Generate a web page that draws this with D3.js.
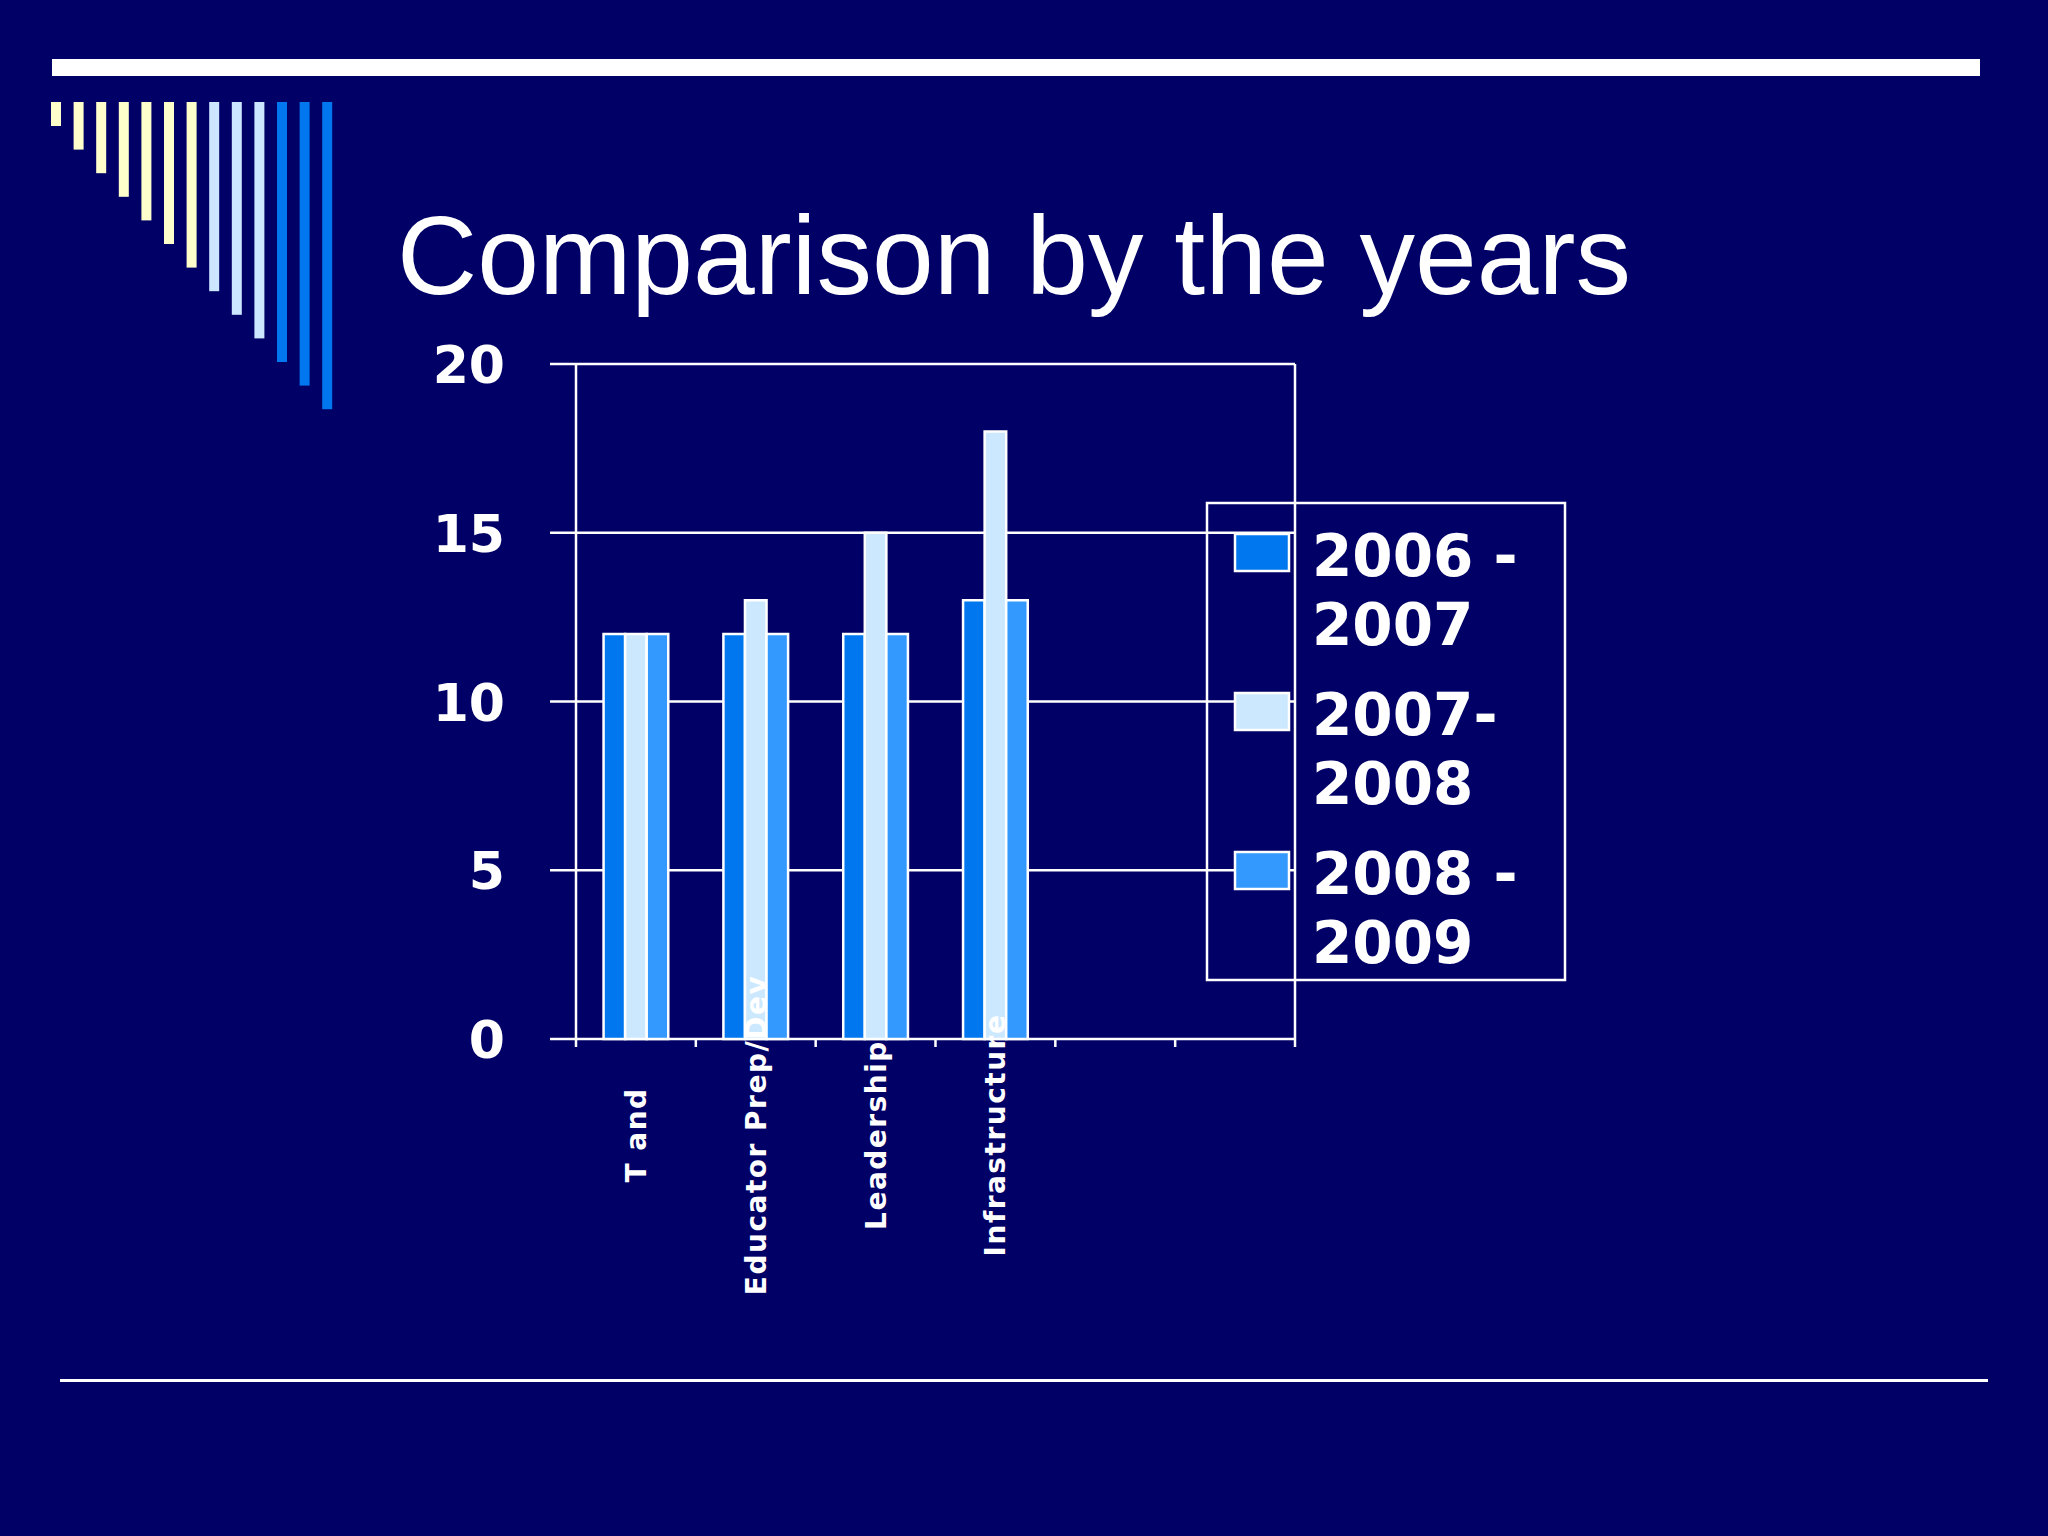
<!DOCTYPE html>
<html>
<head>
<meta charset="utf-8">
<script src="https://cdn.jsdelivr.net/npm/d3@7"></script>
<style>
  body { margin: 0; background: #000066; }
  text { font-family: "Liberation Sans", Arial, sans-serif; fill: #ffffff; }
  .bold { font-family: "DejaVu Sans", Verdana, sans-serif; font-weight: bold; }
</style>
</head>
<body>
<div id="chart"></div>
<script>
var categories = ["T and", "Educator Prep/Dev", "Leadership", "Infrastructure"];
var seriesNames = ["2006 -\n2007", "2007-\n2008", "2008 -\n2009"];
var values2006 = [12, 12, 12, 13];
var values2007 = [12, 13, 15, 18];
var values2008 = [12, 12, 12, 13];
var yTicks = [0, 5, 10, 15, 20];
var slotCount = 6; // axis has 6 category slots, last two empty

var colors = ["#0077ee", "#cce8ff", "#3399ff"];
var seriesValues = [values2006, values2007, values2008];

var svgWidth = 2048, svgHeight = 1536;
var svg = d3.select("#chart").append("svg")
    .attr("width", svgWidth).attr("height", svgHeight);

svg.append("rect").attr("width", svgWidth).attr("height", svgHeight).attr("fill", "#000066");

// slide decoration
svg.append("rect").attr("x", 52).attr("y", 59).attr("width", 1928).attr("height", 17).attr("fill", "#ffffff");
svg.append("rect").attr("x", 60).attr("y", 1379).attr("width", 1928).attr("height", 3).attr("fill", "#ffffff");

var stripeColors = d3.range(13).map(i => i < 7 ? "#ffffcc" : (i < 10 ? "#cce6ff" : "#0077ee"));
svg.selectAll(".stripe").data(stripeColors).enter().append("rect")
    .attr("x", (d, i) => 51 + i * 22.6)
    .attr("y", 102)
    .attr("width", 10)
    .attr("height", (d, i) => 24 + i * 23.6)
    .attr("fill", d => d);

svg.append("text")
    .attr("x", 397).attr("y", 294)
    .attr("font-size", 111)
    .text("Comparison by the years");

// chart
var plotLeft = 576, plotRight = 1295, plotTop = 364, plotBottom = 1039;

var x = d3.scaleBand().domain(d3.range(slotCount)).range([plotLeft, plotRight]);
var xInner = d3.scaleBand().domain(d3.range(seriesNames.length))
    .range([x.bandwidth() * 0.23, x.bandwidth() * 0.77]);
var y = d3.scaleLinear().domain([0, 20]).range([plotBottom, plotTop]);

var g = svg.append("g");

// gridlines
g.selectAll(".grid").data(yTicks).enter().append("line")
    .attr("x1", plotLeft - 26).attr("x2", plotRight)
    .attr("y1", d => y(d)).attr("y2", d => y(d))
    .attr("stroke", "#ffffff").attr("stroke-width", 2.5);

g.append("line").attr("x1", plotLeft).attr("x2", plotLeft).attr("y1", plotTop).attr("y2", plotBottom)
    .attr("stroke", "#ffffff").attr("stroke-width", 2.5);
g.append("line").attr("x1", plotRight).attr("x2", plotRight).attr("y1", plotTop).attr("y2", plotBottom)
    .attr("stroke", "#ffffff").attr("stroke-width", 2.5);

// x ticks
g.selectAll(".xtick").data(d3.range(slotCount + 1)).enter().append("line")
    .attr("x1", d => plotLeft + d * x.step()).attr("x2", d => plotLeft + d * x.step())
    .attr("y1", plotBottom).attr("y2", plotBottom + 8)
    .attr("stroke", "#ffffff").attr("stroke-width", 2.5);

g.selectAll(".ylab").data(yTicks).enter().append("text")
    .attr("class", "bold")
    .attr("x", 505).attr("y", d => y(d) + 19)
    .attr("text-anchor", "end")
    .attr("font-size", 52)
    .text(d => d);

// bars
seriesValues.forEach(function(vals, s) {
    g.selectAll(".bar" + s).data(vals).enter().append("rect")
        .attr("x", (d, i) => x(i) + xInner(s))
        .attr("y", d => y(d))
        .attr("width", xInner.bandwidth())
        .attr("height", d => plotBottom - y(d))
        .attr("fill", colors[s])
        .attr("stroke", "#ffffff").attr("stroke-width", 2.5);
});

// category labels
g.selectAll(".xlab").data(categories).enter().append("text")
    .attr("class", "bold")
    .attr("transform", (d, i) => `translate(${x(i) + x.bandwidth() / 2 + 10}, 1135) rotate(-90)`)
    .attr("text-anchor", "middle")
    .attr("font-size", 28).attr("letter-spacing", 1.5)
    .text(d => d);

// legend
svg.append("rect").attr("x", 1207).attr("y", 503).attr("width", 358).attr("height", 477)
    .attr("fill", "none").attr("stroke", "#ffffff").attr("stroke-width", 2.5);

seriesNames.forEach(function(name, s) {
    var top0 = 534 + s * 159;
    svg.append("rect").attr("x", 1235).attr("y", top0).attr("width", 54).attr("height", 37)
        .attr("fill", colors[s]).attr("stroke", "#ffffff").attr("stroke-width", 2.5);
    name.split("\n").forEach(function(line, k) {
        svg.append("text")
            .attr("class", "bold")
            .attr("x", 1312).attr("y", top0 + 42 + k * 69)
            .attr("font-size", 58)
            .text(line);
    });
});
</script>
</body>
</html>
